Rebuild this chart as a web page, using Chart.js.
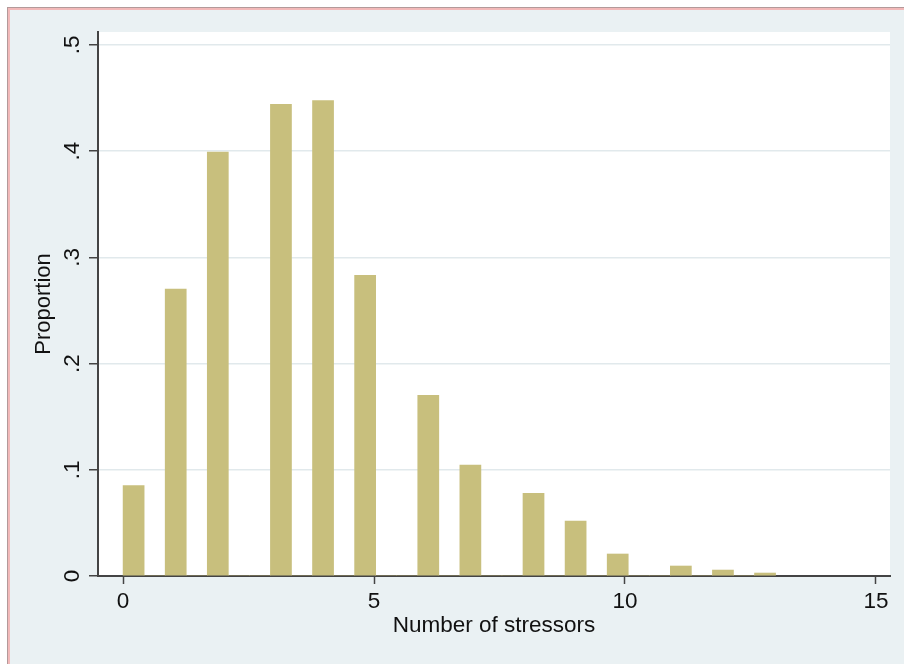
<!DOCTYPE html>
<html>
<head>
<meta charset="utf-8">
<script src="https://cdn.jsdelivr.net/npm/chart.js@4/dist/chart.umd.min.js"></script>
<style>
  html, body { margin: 0; padding: 0; background: #fff; }
  body { width: 904px; height: 664px; position: relative; overflow: hidden; }
  #frame { position: absolute; left: 7px; top: 7px; right: 0; bottom: 0;
           border-left: 1px solid #b39a9a; border-top: 1px solid #b39a9a; }
  #inner { position: absolute; left: 0; top: 0; right: 0; bottom: 0;
           border-left: 2px solid #f2b9b9; border-top: 2px solid #f2b9b9;
           background: rgb(234, 241, 243); }
  #chart { position: absolute; left: 0; top: 0; }
</style>
</head>
<body>
<div id="frame"><div id="inner"></div></div>
<canvas id="chart" width="904" height="664"></canvas>
<script>
// number of stressors observed and the histogram height (density) read for each
const stressors = [0, 1, 2, 3, 4, 5, 6, 7, 8, 9, 10, 11, 12, 13];
const proportion = [0.085, 0.270, 0.399, 0.444, 0.4475, 0.283, 0.170, 0.1044, 0.0778, 0.0517, 0.0207, 0.0094, 0.0056, 0.0028];

const nBins = 31;
const xTicks = [0, 5, 10, 15];
const yTicks = [0, 0.1, 0.2, 0.3, 0.4, 0.5];
const yTickLabels = ['0', '.1', '.2', '.3', '.4', '.5'];

const FONT = 'Liberation Sans, Arial, Helvetica, sans-serif';
const FONT_SIZE = 22.5;
const BAR = '#c8bf7d';
const AXIS = '#444';

// stata-style binning: equal-width bins between min and max, bars drawn per bin
function buildBins() {
  const lo = Math.min(...stressors);
  const hi = Math.max(...stressors);
  const width = (hi - lo) / nBins;
  const heights = new Array(nBins).fill(0);
  stressors.forEach((s, i) => {
    const b = Math.min(Math.floor((s - lo) / width + 1e-9), nBins - 1);
    heights[b] = proportion[i];
  });
  return heights.map((h, k) => ({ x: lo + (k + 0.5) * width, y: h }));
}

const plotBackground = {
  id: 'plotBackground',
  beforeDraw(chart) {
    const { ctx, chartArea: a } = chart;
    ctx.save();
    ctx.fillStyle = '#fff';
    ctx.fillRect(a.left, a.top, a.right - a.left, a.bottom - a.top);
    ctx.restore();
  },
};

// rotated y tick labels, as in the stata graph
const yLabels = {
  id: 'yLabels',
  afterDraw(chart) {
    const { ctx } = chart;
    const y = chart.scales.y;
    ctx.save();
    ctx.fillStyle = '#111';
    ctx.font = `${FONT_SIZE}px ${FONT}`;
    ctx.textAlign = 'center';
    ctx.textBaseline = 'middle';
    yTicks.forEach((v, i) => {
      ctx.save();
      ctx.translate(73, y.getPixelForValue(v));
      ctx.rotate(-Math.PI / 2);
      ctx.fillText(yTickLabels[i], 0, 0);
      ctx.restore();
    });
    ctx.restore();
  },
};

new Chart(document.getElementById('chart'), {
  type: 'bar',
  data: {
    datasets: [{
      data: buildBins(),
      backgroundColor: BAR,
      borderWidth: 0,
      barPercentage: 1,
      categoryPercentage: 1,
    }],
  },
  options: {
    responsive: false,
    animation: false,
    events: [],
    layout: { padding: { top: 32, right: 14, left: 0, bottom: 0 } },
    plugins: { legend: { display: false }, tooltip: { enabled: false } },
    scales: {
      x: {
        type: 'linear',
        min: -0.5,
        max: 15.28,
        offset: false,
        afterBuildTicks: (s) => { s.ticks = xTicks.map(v => ({ value: v })); },
        afterFit: (s) => { s.height = 88; },
        grid: { display: true, offset: false, drawOnChartArea: false, tickLength: 8, tickColor: AXIS, tickWidth: 1.5 },
        border: { display: true, color: AXIS, width: 2 },
        ticks: { color: '#111', font: { family: FONT, size: FONT_SIZE }, padding: 4.5, maxRotation: 0 },
        title: {
          display: true,
          text: 'Number of stressors',
          color: '#111',
          font: { family: FONT, size: FONT_SIZE },
          padding: { top: 0, bottom: 25 },
        },
      },
      y: {
        min: 0,
        max: 0.512,
        afterBuildTicks: (s) => { s.ticks = yTicks.map(v => ({ value: v })); },
        afterFit: (s) => { s.width = 98; },
        grid: { color: '#e1e9ec', lineWidth: 1.5, tickLength: 9, tickColor: AXIS, tickWidth: 1.5 },
        border: { display: true, color: AXIS, width: 2 },
        ticks: { display: false },
        title: {
          display: true,
          text: 'Proportion',
          color: '#111',
          font: { family: FONT, size: 22 },
          padding: { top: 31, bottom: 0 },
        },
      },
    },
  },
  plugins: [plotBackground, yLabels],
});
</script>
</body>
</html>
